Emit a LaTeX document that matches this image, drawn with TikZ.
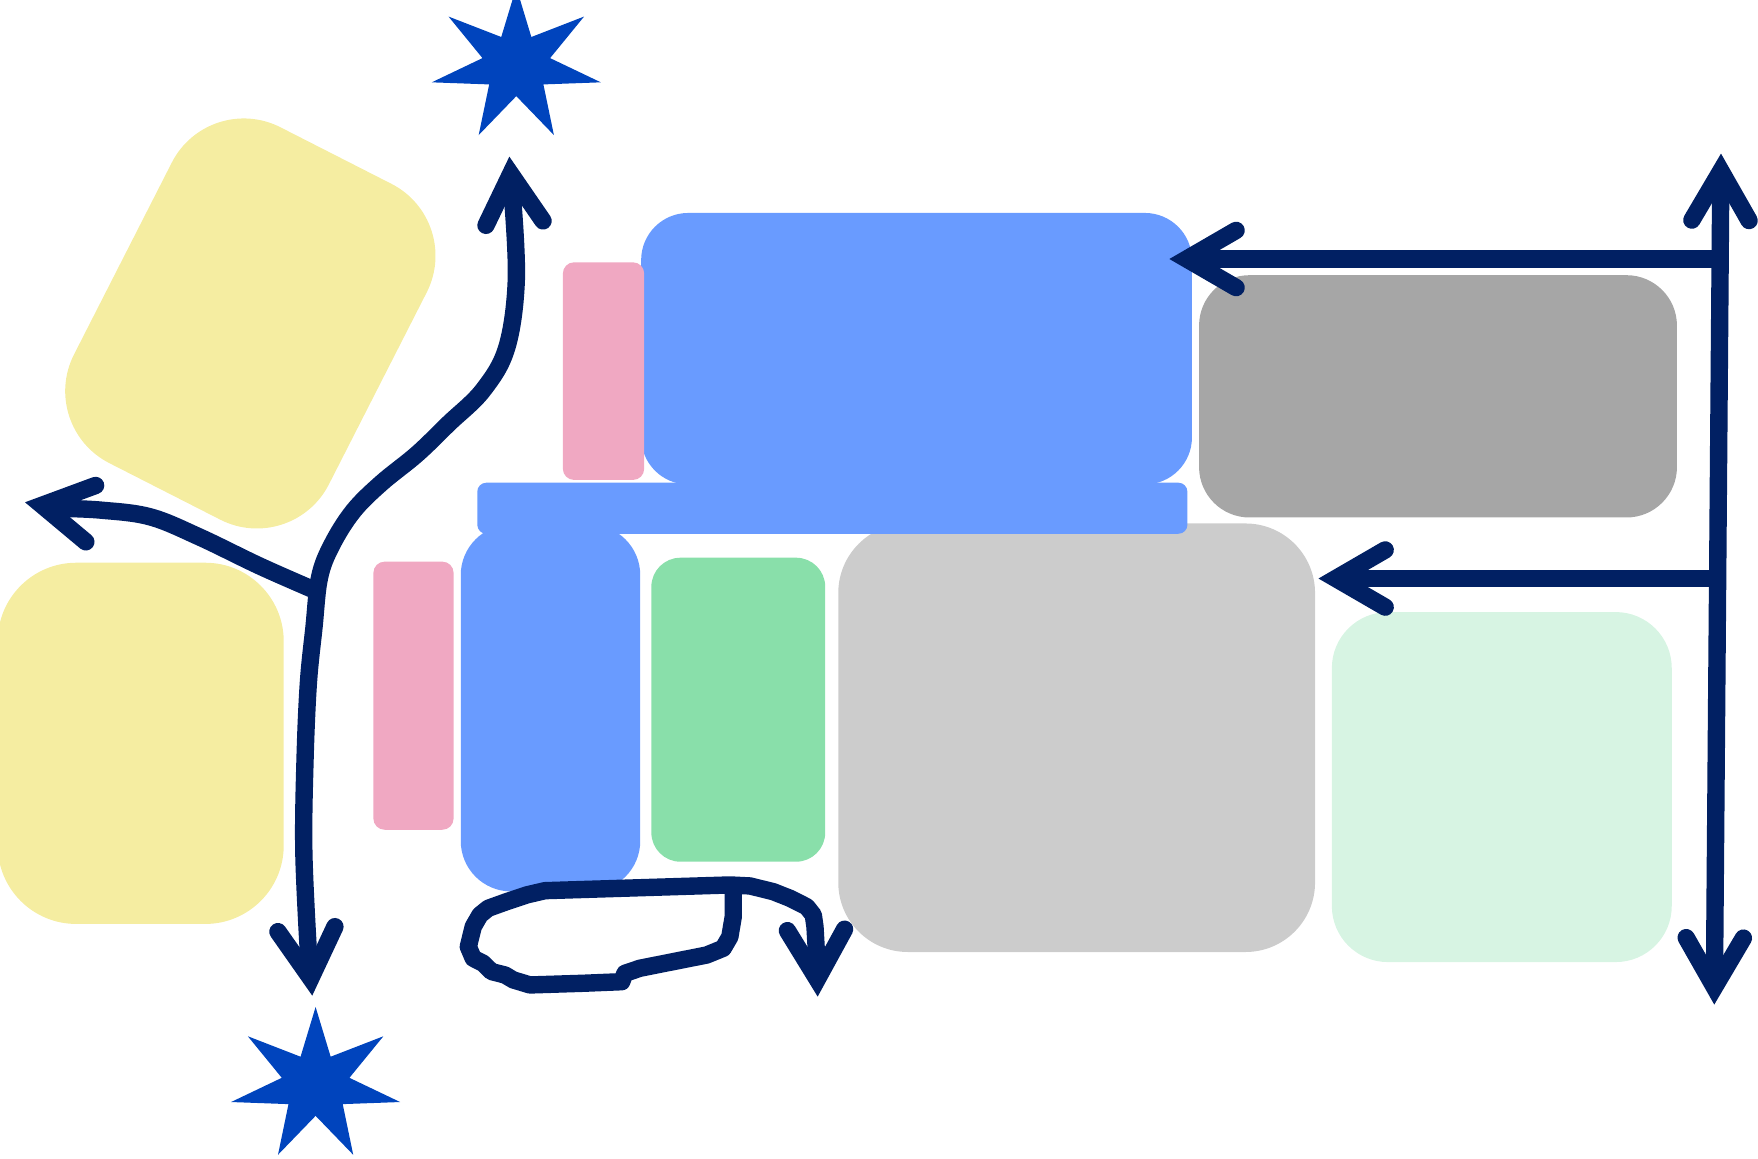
\documentclass[tikz,border=0pt]{standalone}
\usepackage{tikz}
\usetikzlibrary{arrows.meta,shapes.geometric}
\definecolor{inkblue}{RGB}{1,32,99}
\definecolor{starblue}{RGB}{0,68,189}
\definecolor{sunny}{RGB}{245,237,161}
\definecolor{rose}{RGB}{240,168,194}
\definecolor{sky}{RGB}{105,155,255}
\definecolor{leaf}{RGB}{137,223,170}
\definecolor{mint}{RGB}{215,244,227}
\definecolor{ashlight}{RGB}{204,204,204}
\definecolor{ashdark}{RGB}{166,166,166}

\begin{document}
\begin{tikzpicture}[x=0.01cm, y=-0.01cm,
		>={Straight Barb[length=4.4mm, width=5.1mm, line cap=round, line join=miter]},
		panel/.style={rounded corners=#1, inner sep=0pt, outer sep=0pt},
		link/.style={draw=inkblue, line width=1.55mm, line cap=round, line join=round},
		spark/.style={star, star points=7, star point ratio=2.5, minimum size=1.386cm, inner sep=0pt, outer sep=0pt, fill=starblue, xscale=1.115}]
		\useasboundingbox (0,0) rectangle (1568,1033);
		\node[panel=0.72cm, fill=sunny, minimum width=2.55cm, minimum height=3.36cm, rotate=-27] (sunTilt) at (223.3,288.5) {};
		\node[panel=0.7cm, fill=sunny, minimum width=2.55cm, minimum height=3.22cm] (sunLow) at (125.5,663) {};
		\node[panel=0.62cm, fill=ashlight, minimum width=4.25cm, minimum height=3.82cm] (ashBig) at (960.3,658) {};
		\node[panel=0.45cm, fill=ashdark, minimum width=4.26cm, minimum height=2.16cm] (ashTop) at (1282.6,353.5) {};
		\node[panel=0.5cm, fill=mint, minimum width=3.03cm, minimum height=3.12cm] (mintBox) at (1339.5,702) {};
		\node[panel=0.42cm, fill=sky, minimum width=4.91cm, minimum height=2.42cm] (skyTop) at (817.5,311) {};
		\node[panel=0.08cm, fill=sky, minimum width=6.33cm, minimum height=0.455cm] (skyBar) at (742.4,453.3) {};
		\node[panel=0.45cm, fill=sky, minimum width=1.60cm, minimum height=3.27cm] (skyLow) at (491,631.5) {};
		\node[panel=0.1cm, fill=rose, minimum width=0.725cm, minimum height=1.94cm] (roseTop) at (538.3,331) {};
		\node[panel=0.1cm, fill=rose, minimum width=0.715cm, minimum height=2.39cm] (roseLow) at (368.8,620.5) {};
		\node[panel=0.26cm, fill=leaf, minimum width=1.55cm, minimum height=2.71cm] (leafBox) at (658.5,633) {};
		\node[spark] (sparkTop) at (460.5,58) {};
		\node[spark] (sparkLow) at (281.5,967.5) {};

		\coordinate (upTip) at (454.3,139.7);
		\coordinate (fork) at (282,527);
		\coordinate (downTip) at (278.5,888);
		\coordinate (leftTip) at (22.3,448);
		\draw[link, <->] (upTip) -- plot[smooth, tension=0.6] coordinates {(457.3,178.4) (460.5,250) (452,310) (431,347.8) (400,378) (372,405) (340,431) (315,456) (296,486) (285,515) (280,560) (275,610) (272,680) (271,760) (275,848)} -- (downTip);
		\draw[link, ->] plot[smooth, tension=0.6] coordinates {(fork) (232,505) (178,479) (134,461) (90,455) (53.5,453.4)} -- (leftTip);

		\coordinate (loopStart) at (654,791);
		\coordinate (loopTip) at (729.3,888.9);
		\draw[link, ->] (loopStart) -- (654,817.6) -- (651,835.5) -- (645,845.8) -- (630.3,851.8) -- (600.5,857.7) -- (570.8,863.6) -- (557.4,868.1) -- (554.5,875.6) -- (520.3,877) -- (472.7,878.5) -- (457.8,874) -- (450.4,869.6) -- (438.5,866.6) -- (434,862.2) -- (431,859.2) -- (422.1,854.7) -- (417.7,844.4) -- (422.1,826.5) -- (428.1,816.1) -- (435.5,810.1) -- (451.9,804.2) -- (469.8,798.2) -- (486.1,794.4) -- (651.1,789.3) -- (669,790.2) -- (689.7,795.3) -- (704.6,801.2) -- (719.5,808.7) -- (725.4,816.1) -- (726.9,826.5) -- (728.4,853.3) -- (loopTip);

		\coordinate (railTop) at (1535,137);
		\coordinate (railBot) at (1529,896);
		\coordinate (railA) at (1533.8,231);
		\coordinate (railB) at (1531.6,516);
		\coordinate (tipA) at (1043,231);
		\coordinate (tipB) at (1176,516);
		\draw[link, <->, line cap=butt] (railBot) -- (railTop);
		\draw[link, ->, line cap=butt] (railA) -- (tipA);
		\draw[link, ->, line cap=butt] (railB) -- (tipB);
	\end{tikzpicture}
\end{document}
